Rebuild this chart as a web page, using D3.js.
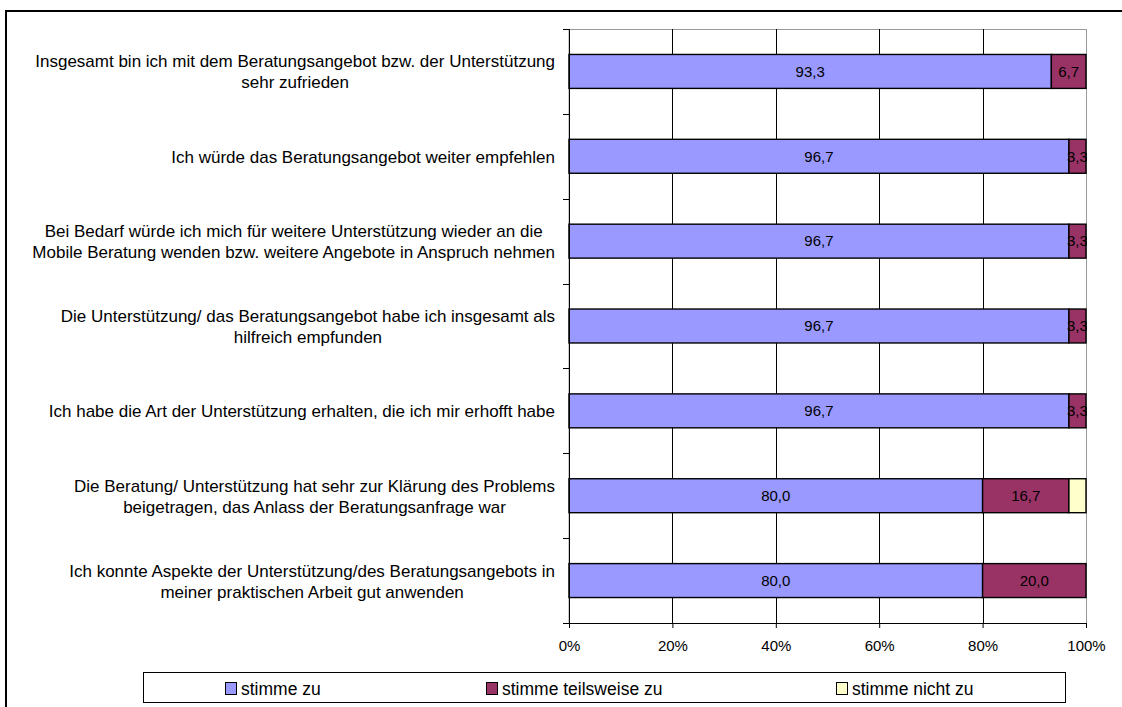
<!DOCTYPE html>
<html>
<head>
<meta charset="utf-8">
<script src="https://cdn.jsdelivr.net/npm/d3@7"></script>
<style>
  body { margin: 0; background: #fff; }
  svg { display: block; font-family: "Liberation Sans", Arial, sans-serif; }
</style>
</head>
<body>
<svg width="1122" height="707"></svg>
<script>
// statements, top to bottom (each entry = lines of the label)
var categories = [
  ["Insgesamt bin ich mit dem Beratungsangebot bzw. der Unterstützung", "sehr zufrieden"],
  ["Ich würde das Beratungsangebot weiter empfehlen"],
  ["Bei Bedarf würde ich mich für weitere Unterstützung wieder an die", "Mobile Beratung wenden bzw. weitere Angebote in Anspruch nehmen"],
  ["Die Unterstützung/ das Beratungsangebot habe ich insgesamt als", "hilfreich empfunden"],
  ["Ich habe die Art der Unterstützung erhalten, die ich mir erhofft habe"],
  ["Die Beratung/ Unterstützung hat sehr zur Klärung des Problems", "beigetragen, das Anlass der Beratungsanfrage war"],
  ["Ich konnte Aspekte der Unterstützung/des Beratungsangebots in", "meiner praktischen Arbeit gut anwenden"]
];
var stimmeZu    = [93.3, 96.7, 96.7, 96.7, 96.7, 80.0, 80.0];
var teilweiseZu = [6.7, 3.3, 3.3, 3.3, 3.3, 16.7, 20.0];
var nichtZu     = [0, 0, 0, 0, 0, 3.3, 0];
var seriesNames = ["stimme zu", "stimme teilsweise zu", "stimme nicht zu"];
var xTicks = [0, 20, 40, 60, 80, 100];

var colors = ["#9999FF", "#993366", "#FFFFCC"];
var showLabel = [true, true, false];

var svg = d3.select("svg");
var pLeft = 569, pRight = 1086, pTop = 29, pBottom = 623;

var keys = ["zu", "teil", "nicht"];
var table = categories.map(function(c, i) {
  return { i: i, zu: stimmeZu[i], teil: teilweiseZu[i], nicht: nichtZu[i] };
});
var stack = d3.stack().keys(keys)(table);

var x = d3.scaleLinear().domain([0, 100]).range([pLeft, pRight]);
var y = d3.scaleBand().domain(d3.range(categories.length)).range([pTop, pBottom])
  .paddingInner(0.6).paddingOuter(0.3);

var de = d3.formatLocale({ decimal: ",", thousands: ".", grouping: [3], currency: ["", " €"] });
var fmt = de.format(".1f");

// outer frame (top and left only visible)
svg.append("line").attr("x1", 6).attr("x2", 1122).attr("y1", 11).attr("y2", 11)
  .attr("stroke", "#000").attr("stroke-width", 2);
svg.append("line").attr("x1", 6).attr("x2", 6).attr("y1", 10).attr("y2", 707)
  .attr("stroke", "#000").attr("stroke-width", 2);

// plot border (gray)
svg.append("rect").attr("x", pLeft).attr("y", pTop + 0.5)
  .attr("width", pRight - pLeft + 0.5).attr("height", pBottom - pTop)
  .attr("fill", "none").attr("stroke", "#9a9a9a").attr("stroke-width", 1);

// vertical gridlines
svg.append("g").selectAll("line")
  .data(xTicks.filter(function(d) { return d > 0 && d < 100; }))
  .enter().append("line")
  .attr("x1", function(d) { return Math.round(x(d)) + 0.5; })
  .attr("x2", function(d) { return Math.round(x(d)) + 0.5; })
  .attr("y1", pTop).attr("y2", pBottom)
  .attr("stroke", "#000").attr("stroke-width", 1);

// bars
var layer = svg.append("g").selectAll("g")
  .data(stack).enter().append("g")
  .attr("fill", function(d, k) { return colors[k]; });

layer.selectAll("rect")
  .data(function(d) { return d.filter(function(v) { return v[1] - v[0] > 0; }); })
  .enter().append("rect")
  .attr("x", function(d) { return x(d[0]); })
  .attr("y", function(d) { return y(d.data.i); })
  .attr("width", function(d) { return x(d[1]) - x(d[0]); })
  .attr("height", y.bandwidth())
  .attr("stroke", "#000").attr("stroke-width", 1.4);

// value labels, clipped to plot area
svg.append("clipPath").attr("id", "plotclip")
  .append("rect").attr("x", pLeft).attr("y", pTop)
  .attr("width", pRight - pLeft + 1).attr("height", pBottom - pTop);

var labels = svg.append("g").attr("clip-path", "url(#plotclip)");
stack.forEach(function(s, k) {
  if (!showLabel[k]) return;
  labels.selectAll(null)
    .data(s.filter(function(d) { return d[1] - d[0] > 0; }))
    .enter().append("text")
    .attr("x", function(d) { return (x(d[0]) + x(d[1])) / 2; })
    .attr("y", function(d) { return y(d.data.i) + y.bandwidth() / 2; })
    .attr("dy", "0.35em")
    .attr("text-anchor", "middle")
    .attr("font-size", 15)
    .attr("fill", "#000")
    .text(function(d) { return fmt(d[1] - d[0]); });
});

// left axis line with ticks at band boundaries
var step = y.step();
var leftAxis = svg.append("g");
leftAxis.append("line").attr("x1", pLeft + 0.5).attr("x2", pLeft + 0.5)
  .attr("y1", pTop).attr("y2", pBottom).attr("stroke", "#000");
leftAxis.selectAll(".tk").data(d3.range(categories.length + 1)).enter().append("line")
  .attr("x1", pLeft - 6).attr("x2", pLeft)
  .attr("y1", function(i) { return Math.round(pTop + i * step) + 0.5; })
  .attr("y2", function(i) { return Math.round(pTop + i * step) + 0.5; })
  .attr("stroke", "#000");

// category labels: centered block, right edge near axis
var labelRight = 555;
var catG = svg.append("g").attr("font-size", 17).attr("fill", "#000");
categories.forEach(function(lines, i) {
  var t = catG.append("text").attr("text-anchor", "middle");
  var spans = lines.map(function(l, j) {
    return t.append("tspan").text(l)
      .attr("y", y(i) + y.bandwidth() / 2 + 0.5 + (j - (lines.length - 1) / 2) * 21)
      .attr("dy", "0.35em");
  });
  var maxW = d3.max(spans, function(s) { return s.node().getComputedTextLength(); });
  spans.forEach(function(s) { s.attr("x", labelRight - maxW / 2); });
});

// bottom axis
var xAxis = svg.append("g").attr("transform", "translate(0," + pBottom + ")")
  .call(d3.axisBottom(x).tickValues(xTicks).tickSize(5).tickPadding(12)
    .tickFormat(function(d) { return d + "%"; }));
xAxis.select(".domain").attr("stroke", "#000");
xAxis.selectAll(".tick line").attr("stroke", "#000");
xAxis.selectAll("text").attr("font-size", 15).attr("fill", "#000")
  .attr("font-family", "Liberation Sans, Arial, sans-serif");

// legend
var legend = svg.append("g");
legend.append("rect").attr("x", 143.5).attr("y", 672.5).attr("width", 922).attr("height", 30)
  .attr("fill", "#fff").attr("stroke", "#000").attr("stroke-width", 1);
var legX = [225, 486, 836];
seriesNames.forEach(function(n, k) {
  legend.append("rect").attr("x", legX[k] + 0.5).attr("y", 682.5).attr("width", 11).attr("height", 12)
    .attr("fill", colors[k]).attr("stroke", "#000");
  legend.append("text").attr("x", legX[k] + 16).attr("y", 688.5).attr("dy", "0.35em")
    .attr("font-size", 17.5).attr("fill", "#000").text(n);
});
</script>
</body>
</html>
